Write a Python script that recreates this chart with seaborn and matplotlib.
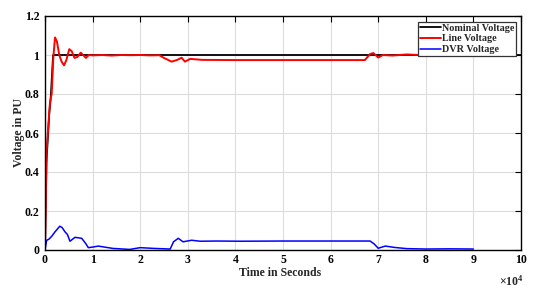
import numpy as np
import pandas as pd
import matplotlib
matplotlib.use("Agg")
import matplotlib.pyplot as plt
import seaborn as sns

# ---- data (time in units of 1e4 s) ----
nominal_t = [0, 0.03, 0.09, 0.12, 0.17, 10]
nominal_v = [0, 0.45, 0.70, 0.78, 1.0, 1.0]

line_t = [0, 0.035, 0.09, 0.105, 0.14, 0.175, 0.21, 0.25, 0.30, 0.35, 0.40, 0.45,
          0.51, 0.56, 0.62, 0.68, 0.75, 0.80, 0.86, 0.92, 1.0, 1.2, 1.4, 1.6, 1.8,
          2.0, 2.2, 2.4, 2.5, 2.66, 2.78, 2.87, 2.94, 3.05, 3.3, 4.0, 5.0, 6.0, 6.72,
          6.83, 6.9, 7.0, 7.1, 7.3, 7.6, 8.0, 8.4, 8.8, 9.0]
line_v = [0, 0.51, 0.71, 0.757, 0.80, 0.986, 1.09, 1.07, 1.0, 0.965, 0.947, 0.975,
          1.03, 1.02, 0.985, 0.99, 1.012, 1.0, 0.985, 1.0, 0.998, 1.0, 0.997, 1.0, 0.999,
          1.0, 0.998, 0.999, 0.985, 0.966, 0.975, 0.986, 0.966, 0.98, 0.975, 0.974, 0.974, 0.974, 0.974,
          1.005, 1.01, 0.987, 1.0, 0.997, 1.003, 0.998, 1.002, 0.998, 1.0]

dvr_t = [0, 0.035, 0.08, 0.14, 0.21, 0.31, 0.36, 0.42, 0.47, 0.525, 0.63, 0.77, 0.85,
         0.91, 1.0, 1.12, 1.43, 1.78, 2.0, 2.3, 2.63, 2.7, 2.8, 2.9, 3.08, 3.26, 3.6,
         4.1, 5.0, 6.0, 6.83, 6.92, 7.0, 7.15, 7.35, 7.6, 8.0, 8.5, 9.0]
dvr_v = [0, 0.05, 0.055, 0.07, 0.093, 0.122, 0.115, 0.093, 0.08, 0.045, 0.065, 0.06, 0.035,
         0.012, 0.015, 0.02, 0.008, 0.003, 0.012, 0.008, 0.005, 0.042, 0.06, 0.042, 0.05, 0.045, 0.046,
         0.045, 0.046, 0.046, 0.046, 0.03, 0.009, 0.02, 0.013, 0.007, 0.005, 0.006, 0.005]

labels = ["Nominal Voltage", "Line Voltage", "DVR Voltage"]
colors = ["black", "#ff0000", "#0000ff"]
x_ticks = list(range(0, 11))
y_ticks = [0, 0.2, 0.4, 0.6, 0.8, 1.0, 1.2]
y_tick_labels = ["0", "0.2", "0.4", "0.6", "0.8", "1", "1.2"]

sns.set_style("white")
plt.rcParams["font.family"] = ["Liberation Serif", "DejaVu Serif"]
plt.rcParams["font.weight"] = "bold"
plt.rcParams["mathtext.fontset"] = "custom"
plt.rcParams["mathtext.rm"] = "Liberation Serif:bold"
plt.rcParams["mathtext.bf"] = "Liberation Serif:bold"

fig = plt.figure(figsize=(5.46, 2.93), dpi=100)
ax = fig.add_axes([45 / 546, 1 - 250 / 293, 476 / 546, 234 / 293])

frames = [
    pd.DataFrame({"t": nominal_t, "v": nominal_v}),
    pd.DataFrame({"t": line_t, "v": line_v}),
    pd.DataFrame({"t": dvr_t, "v": dvr_v}),
]
widths = [1.3, 1.4, 1.1]
for df, lab, c, w in zip(frames, labels, colors, widths):
    sns.lineplot(data=df, x="t", y="v", ax=ax, color=c, lw=w, label=lab,
                 sort=False, estimator=None)

ax.set_xlim(0, 10)
ax.set_ylim(0, 1.2)
ax.set_xticks(x_ticks)
ax.set_xticklabels([str(t) for t in x_ticks])
ax.set_yticks(y_ticks)
ax.set_yticklabels(y_tick_labels)
ax.grid(True, color="#dcdcdc", lw=0.8)
ax.set_axisbelow(True)
for s in ax.spines.values():
    s.set_color("black")
    s.set_linewidth(1.0)
ax.tick_params(direction="in", length=4, width=0.8, top=True, right=True,
               labelsize=8.5, pad=4, colors="black")
ax.tick_params(axis="x", pad=3)
for lbl in ax.get_xticklabels() + ax.get_yticklabels():
    lbl.set_fontweight("bold")

ax.set_xlabel("Time in Seconds", fontsize=8.5, fontweight="bold")
ax.xaxis.set_label_coords(0.494, -0.072)
ax.xaxis.label.set_va("top")
ax.set_ylabel("Voltage in PU", fontsize=8.5, fontweight="bold")
ax.yaxis.set_label_coords(-0.041, 0.5)

fig.text(524 / 546, 1 - 274 / 293, r"$\times\mathbf{10^{4}}$", ha="right", va="top",
         fontsize=8.5)

leg = ax.legend(loc="upper right", bbox_to_anchor=(516 / 546, 1 - 21.7 / 293),
                bbox_transform=fig.transFigure, fontsize=7.3, frameon=True,
                fancybox=False, edgecolor="#333333", framealpha=1,
                handlelength=2.0, handletextpad=0.1, borderpad=0.2,
                labelspacing=0.15, borderaxespad=0)
leg.get_frame().set_linewidth(0.9)
for t in leg.get_texts():
    t.set_fontweight("bold")

fig.savefig("out.png", dpi=100)
